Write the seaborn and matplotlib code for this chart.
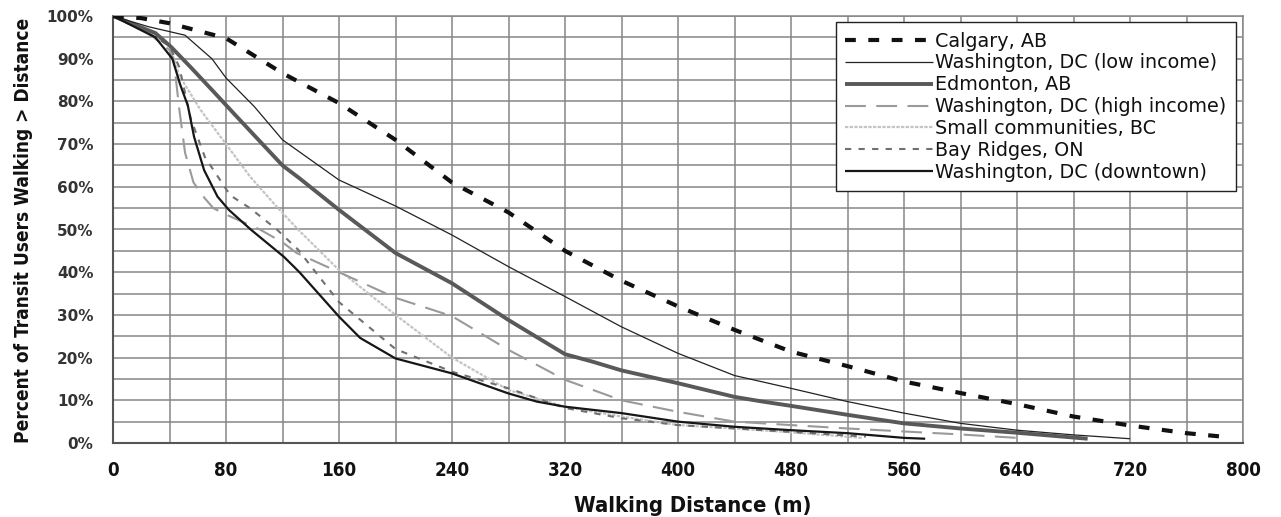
import numpy as np
import pandas as pd
import matplotlib
matplotlib.use("Agg")
import matplotlib.pyplot as plt
from matplotlib import font_manager as fm
import seaborn as sns

# ---------------- data ----------------
calgary_x = [0, 20, 40, 80, 120, 160, 200, 240, 280, 320, 360, 400, 440, 480, 520, 560, 600, 640, 680, 720, 760, 785]
calgary_y = [100, 99.5, 98.3, 94.8, 86.6, 79.6, 71, 61, 54, 45, 38, 32, 26.5, 21.4, 18, 14.4, 11.7, 9.1, 6.2, 4.1, 2.3, 1.5]

dc_low_x = [0, 25, 51, 70, 80, 100, 120, 160, 200, 240, 280, 320, 360, 400, 440, 480, 520, 560, 600, 640, 680, 720]
dc_low_y = [100, 97.5, 95.5, 90, 85.5, 78.8, 71, 61.6, 55.5, 48.7, 41.3, 34.3, 27.2, 21, 15.8, 12.8, 9.7, 7, 4.6, 3, 1.9, 1]

edmonton_x = [0, 30, 41, 55, 72, 86, 120, 132, 160, 200, 240, 280, 320, 340, 360, 400, 440, 460, 480, 520, 560, 600, 640, 690]
edmonton_y = [100, 96, 92.8, 88, 82, 77, 65, 62, 54.6, 44.5, 37.4, 28.8, 20.8, 19, 17, 14, 10.8, 9.7, 8.7, 6.6, 4.6, 3.4, 2.4, 1]

dc_high_x = [0, 25, 40, 43, 47, 51, 57, 65, 71, 80, 104, 120, 130, 160, 200, 240, 280, 320, 360, 400, 440, 480, 520, 560, 600, 640]
dc_high_y = [100, 96, 92, 89.7, 78, 68, 61, 57.3, 55, 53.5, 50, 47, 44.5, 40, 34, 29.7, 21.8, 14.8, 10, 7.3, 5, 4.2, 3.4, 2.7, 2, 1.2]

small_x = [0, 25, 40, 47, 62, 80, 97, 116, 131, 160, 200, 240, 280, 320, 360, 400, 440, 480, 530]
small_y = [100, 96, 93, 86, 78, 70, 62.4, 55.3, 50, 40.5, 30, 20, 12.4, 8.5, 6.2, 4.2, 3.4, 2.5, 1.2]

bay_x = [0, 25, 40, 47, 55, 65, 83, 97, 116, 131, 160, 200, 240, 280, 320, 360, 400, 440, 480, 533]
bay_y = [100, 96, 93, 88, 76, 67, 58, 55, 50, 45.3, 33, 22, 16.7, 12.8, 8.2, 5.8, 4.2, 3.4, 2.6, 1.5]

dc_down_x = [0, 30, 42, 47.5, 53, 57.4, 64.5, 74, 82, 97.5, 121, 132, 160, 175, 200, 240, 280, 300, 320, 360, 400, 440, 480, 520, 560, 575]
dc_down_y = [100, 95, 90, 84, 79, 71.7, 63.9, 57.7, 54.6, 50, 43.6, 40, 29.6, 24.6, 19.8, 16.3, 11.6, 9.7, 8.5, 7, 5, 3.8, 3, 2.3, 1.2, 1]

series_names = ["Calgary, AB", "Washington, DC (low income)", "Edmonton, AB",
                "Washington, DC (high income)", "Small communities, BC",
                "Bay Ridges, ON", "Washington, DC (downtown)"]
series_x = [calgary_x, dc_low_x, edmonton_x, dc_high_x, small_x, bay_x, dc_down_x]
series_y = [calgary_y, dc_low_y, edmonton_y, dc_high_y, small_y, bay_y, dc_down_y]

x_ticks = [0, 80, 160, 240, 320, 400, 480, 560, 640, 720, 800]
y_ticks = [0, 10, 20, 30, 40, 50, 60, 70, 80, 90, 100]
y_tick_labels = ["0%", "10%", "20%", "30%", "40%", "50%", "60%", "70%", "80%", "90%", "100%"]
x_title = "Walking Distance (m)"
y_title = "Percent of Transit Users Walking > Distance"

# ---------------- styles ----------------
styles = [
    dict(color="#111111", lw=3.0, dashes=(2.6, 3.0), z=9),
    dict(color="#222222", lw=0.9, dashes=None, z=8),
    dict(color="#595959", lw=2.8, dashes=None, z=7),
    dict(color="#9a9a9a", lw=1.5, dashes=(10, 5), z=6),
    dict(color="#c4c4c4", lw=1.6, dashes=(1.5, 0.6), z=5),
    dict(color="#707070", lw=1.5, dashes=(3, 3.5), z=6),
    dict(color="#161616", lw=1.6, dashes=None, z=8),
]

sns.set_style("white")


def pick_narrow():
    """Pick a condensed bold font if one is installed."""
    try:
        p = fm.findfont(fm.FontProperties(family="DejaVu Sans", stretch="condensed", weight="bold"),
                        fallback_to_default=False)
        if "ondensed" in p:
            return dict(family="DejaVu Sans", stretch="condensed")
    except Exception:
        pass
    for fam in ["Liberation Sans Narrow", "Roboto Condensed", "Open Sans Condensed", "Roboto"]:
        try:
            fm.findfont(fm.FontProperties(family=fam), fallback_to_default=False)
            return dict(family=fam, stretch="normal")
        except Exception:
            continue
    return dict(family="DejaVu Sans", stretch="normal")


NF = pick_narrow()

fig = plt.figure(figsize=(12.81, 5.17), dpi=100)
ax = fig.add_axes([113 / 1281, 1 - 443 / 517, (1243 - 113) / 1281, (443 - 16) / 517])

handles = []
for name, xs, ys, st in zip(series_names, series_x, series_y, styles):
    df = pd.DataFrame({"x": xs, "y": ys})
    sns.lineplot(data=df, x="x", y="y", ax=ax, color=st["color"], linewidth=st["lw"],
                 estimator=None, sort=False, label=name, zorder=st["z"])
    line = ax.get_lines()[-1]
    if st["dashes"] is not None:
        line.set_dashes(st["dashes"])
    line.set_solid_capstyle("butt")
    line.set_dash_capstyle("butt")
    handles.append(line)

ax.set_xlabel("")
ax.set_ylabel("")
ax.set_xlim(0, 800)
ax.set_ylim(0, 100)
ax.set_xticks(x_ticks)
ax.set_yticks(y_ticks)
ax.set_yticklabels(y_tick_labels)
ax.set_xticks(np.arange(0, 801, 40), minor=True)
ax.set_yticks(np.arange(0, 101, 5), minor=True)
ax.grid(True, which="both", color="#868686", linewidth=1.1, zorder=0)
ax.set_axisbelow(True)

for side in ["top", "right"]:
    ax.spines[side].set_color("#868686")
    ax.spines[side].set_linewidth(1.1)
for side in ["left", "bottom"]:
    ax.spines[side].set_color("#555555")
    ax.spines[side].set_linewidth(1.5)

ax.tick_params(axis="both", which="major", direction="out", length=4, width=1.2, color="#555555")
ax.tick_params(axis="both", which="minor", length=0)
ax.tick_params(axis="x", pad=9)
ax.tick_params(axis="y", pad=10)

for lab in ax.get_xticklabels():
    lab.set_fontfamily(NF["family"])
    lab.set_fontstretch(NF["stretch"])
    lab.set_fontweight("bold")
    lab.set_fontsize(13.5)
    lab.set_color("#111111")
for lab in ax.get_yticklabels():
    lab.set_fontfamily("DejaVu Sans")
    lab.set_fontweight("bold")
    lab.set_fontsize(11)
    lab.set_color("#333333")

# axis titles placed as figure text, sized to the reference extents
ylab = fig.text(24 / 1281, 1 - 230 / 517, y_title,
                rotation=90, ha="center", va="center", fontsize=16, fontweight="bold",
                family=NF["family"], fontstretch=NF["stretch"], color="#111111")
xlab = fig.text(693 / 1281, 1 - 506 / 517, x_title,
                ha="center", va="center", fontsize=17, fontweight="bold",
                family=NF["family"], fontstretch=NF["stretch"], color="#111111")

fig.canvas.draw()
r = fig.canvas.get_renderer()
h = ylab.get_window_extent(r).height
ylab.set_fontsize(16 * 428 / h)
w = xlab.get_window_extent(r).width
xlab.set_fontsize(17 * 237 / w)

leg = ax.legend(handles=handles, labels=series_names, loc="upper right",
                bbox_to_anchor=(1236 / 1281, 1 - 22 / 517), bbox_transform=fig.transFigure,
                frameon=True, fancybox=False, framealpha=1, edgecolor="#222222",
                prop={"family": "DejaVu Sans", "size": 13.8}, handlelength=4.6,
                handletextpad=0.1, labelspacing=0.15, borderpad=0.5, borderaxespad=0)
leg.get_frame().set_linewidth(1.0)
leg.set_zorder(20)
for t in leg.get_texts():
    t.set_color("#111111")

fig.savefig("out.png", dpi=100)
